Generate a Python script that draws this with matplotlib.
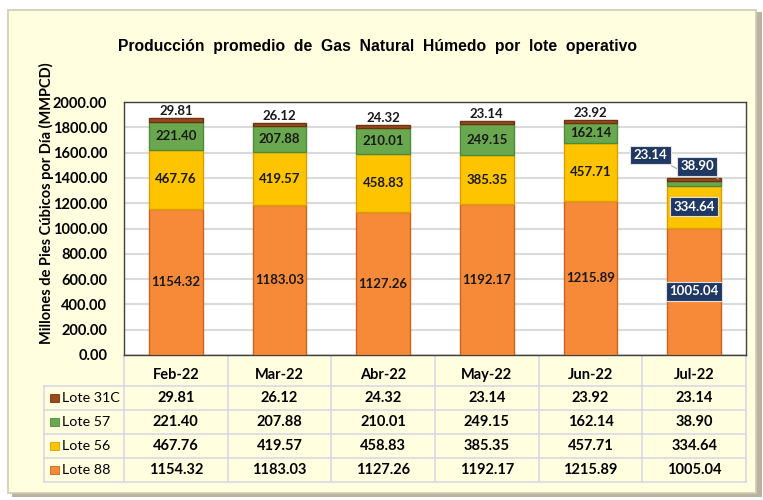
import matplotlib.pyplot as plt
import matplotlib.transforms as mtransforms
from matplotlib.patches import Rectangle
import numpy as np

plt.rcParams['font.family'] = ['Lato', 'DejaVu Sans']

# Data
months = ['Feb-22', 'Mar-22', 'Abr-22', 'May-22', 'Jun-22', 'Jul-22']
lote_88 = [1154.32, 1183.03, 1127.26, 1192.17, 1215.89, 1005.04]
lote_56 = [467.76, 419.57, 458.83, 385.35, 457.71, 334.64]
lote_57 = [221.40, 207.88, 210.01, 249.15, 162.14, 38.90]
lote_31c = [29.81, 26.12, 24.32, 23.14, 23.92, 23.14]

series_names = ['Lote 31C', 'Lote 57', 'Lote 56', 'Lote 88']
colors = {'Lote 88': '#F68A38', 'Lote 56': '#FFC400',
          'Lote 57': '#69A84F', 'Lote 31C': '#9A4A1E'}
edges = {'Lote 88': '#C8641E', 'Lote 56': '#D9A000',
         'Lote 57': '#4E8A38', 'Lote 31C': '#6E3210'}
values = {'Lote 88': lote_88, 'Lote 56': lote_56,
          'Lote 57': lote_57, 'Lote 31C': lote_31c}

W, H = 763, 500
fig = plt.figure(figsize=(W / 100, H / 100), dpi=100)
fig.patch.set_facecolor('white')

# outer frame with shadow
fig.patches.append(Rectangle((12 / W, 1 - 497 / H), 750 / W, 485 / H,
                             transform=fig.transFigure, facecolor='#B8B4A0',
                             edgecolor='none', zorder=-2))
fig.patches.append(Rectangle((8 / W, 1 - 493 / H), 748 / W, 483 / H,
                             transform=fig.transFigure, facecolor='#FFFFE0',
                             edgecolor='#CFCBB5', linewidth=1.2, zorder=-1))

ax = fig.add_axes([124 / W, 1 - 355 / H, 622 / W, 253 / H])
ax.set_zorder(2)
ax.set_facecolor('white')
x = np.arange(len(months))
bar_w = 0.52

bottom = np.zeros(len(months))
segments = {}
for name in ['Lote 88', 'Lote 56', 'Lote 57', 'Lote 31C']:
    v = np.array(values[name])
    ax.bar(x, v, bar_w, bottom=bottom, color=colors[name],
           edgecolor=edges[name], linewidth=1.0, zorder=3)
    segments[name] = (bottom.copy(), v)
    bottom = bottom + v
totals = bottom

# data labels
for i in range(len(months)):
    if i < len(months) - 1:
        for name in ['Lote 88', 'Lote 56', 'Lote 57']:
            b, v = segments[name]
            ax.text(x[i], b[i] + v[i] / 2, f'{v[i]:.2f}', ha='center',
                    va='center', fontsize=9.5, fontweight='bold',
                    color='#1a1a1a', zorder=5)
        ax.text(x[i], totals[i] + 8, f'{lote_31c[i]:.2f}', ha='center',
                va='bottom', fontsize=9.5, fontweight='bold', color='#1a1a1a',
                zorder=5)
    else:
        box = dict(boxstyle='square,pad=0.25', facecolor='#1F3864',
                   edgecolor='#E0E0E0', linewidth=0.8)
        for name in ['Lote 88', 'Lote 56']:
            b, v = segments[name]
            ax.text(x[i], b[i] + v[i] / 2, f'{v[i]:.2f}', ha='center',
                    va='center', fontsize=9.5, fontweight='bold',
                    color='white', bbox=box, zorder=6)
        # leader-line labels for the small segments
        b57, v57 = segments['Lote 57']
        ax.annotate(f'{lote_31c[i]:.2f}', xy=(x[i], totals[i]),
                    xytext=(x[i] - 0.42, totals[i] + 180), ha='center',
                    va='center', fontsize=9.5, fontweight='bold', color='white',
                    bbox=box, zorder=6,
                    arrowprops=dict(arrowstyle='-', color='#A0A0A0', lw=0.8))
        ax.annotate(f'{lote_57[i]:.2f}', xy=(x[i] + bar_w / 2, b57[i] + v57[i]),
                    xytext=(x[i] + 0.03, totals[i] + 90), ha='center',
                    va='center', fontsize=9.5, fontweight='bold', color='white',
                    bbox=box, zorder=6,
                    arrowprops=dict(arrowstyle='-', color='#A0A0A0', lw=0.8))

ax.set_xlim(-0.5, len(months) - 0.5)
ax.set_ylim(0, 2000)
ax.set_yticks(np.arange(0, 2001, 200))
ax.set_yticklabels([f'{t:.2f}' for t in np.arange(0, 2001, 200)],
                   fontsize=10.5, fontweight='bold')
ax.set_xticks([])
ax.tick_params(axis='y', length=0, pad=12)
ax.grid(axis='y', color='#DADADA', linewidth=1.5, zorder=0)
ax.set_axisbelow(True)
for s in ax.spines.values():
    s.set_color('#404040')
    s.set_linewidth(1.0)

ax.set_ylabel('Millones de Pies Cúbicos por Día (MMPCD)', fontsize=10.5,
              fontweight='bold')
ax.yaxis.set_label_coords(-0.113, 0.6)

fig.text(378 / W, 1 - 47 / H,
         'Producción  promedio  de  Gas  Natural  Húmedo  por  lote  operativo',
         ha='center', va='center', fontsize=11.3, fontweight='bold',
         family=['Liberation Sans', 'DejaVu Sans'])

# data table under the chart
trans = mtransforms.blended_transform_factory(ax.transData, ax.transAxes)
px = 253.0
def ay(pix):
    return (355 - pix) / px

row_edges = [386, 410, 434, 458, 482]
x_left = -0.5 - 80 / 103.67
grid_c = '#D8D8E4'
for yy in row_edges:
    ax.plot([x_left, len(months) - 0.5], [ay(yy), ay(yy)], color=grid_c,
            lw=1.2, transform=trans, clip_on=False)
ax.plot([x_left, x_left], [ay(386), ay(482)], color=grid_c, lw=1.2,
        transform=trans, clip_on=False)
for xv in np.arange(-0.5, len(months), 1.0):
    ax.plot([xv, xv], [ay(356), ay(482)], color=grid_c, lw=1.2,
            transform=trans, clip_on=False)

for i, m in enumerate(months):
    ax.text(x[i], ay(375), m, ha='center', va='center', fontsize=10.5,
            fontweight='bold', transform=trans, clip_on=False)

for r, name in enumerate(series_names):
    yc = ay((row_edges[r] + row_edges[r + 1]) / 2)
    ax.add_patch(Rectangle((x_left + 0.06, yc - 0.016), 0.08, 0.032,
                           facecolor=colors[name], edgecolor=edges[name],
                           lw=0.6, transform=trans, clip_on=False))
    ax.text(x_left + 0.175, yc, name, ha='left', va='center', fontsize=10.3,
            transform=trans, clip_on=False)
    for i in range(len(months)):
        ax.text(x[i], yc, f'{values[name][i]:.2f}', ha='center', va='center',
                fontsize=10.5, fontweight='bold', transform=trans,
                clip_on=False)

fig.savefig('out.png', dpi=100, facecolor=fig.get_facecolor())
